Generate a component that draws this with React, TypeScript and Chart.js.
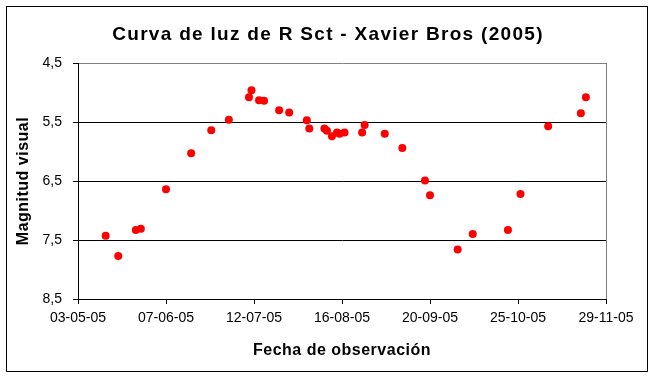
import { useEffect, useRef } from 'react';
import { Chart, registerables } from 'chart.js';

Chart.register(...registerables);

const chartTitle = 'Curva de luz de R Sct - Xavier Bros (2005)';
const xAxisTitle = 'Fecha de observación';
const yAxisTitle = 'Magnitud visual';

const startDate = '2005-05-03';
const endDate = '2005-11-29';
const xTickStepDays = 35;
const yMin = 4.5;
const yMax = 8.5;
const yStep = 1;

const obsDates = [
  '2005-05-14', '2005-05-19', '2005-05-26', '2005-05-28', '2005-06-07',
  '2005-06-17', '2005-06-25', '2005-07-02', '2005-07-10', '2005-07-11',
  '2005-07-14', '2005-07-16', '2005-07-22', '2005-07-26', '2005-08-02',
  '2005-08-03', '2005-08-09', '2005-08-10', '2005-08-12', '2005-08-14',
  '2005-08-15', '2005-08-17', '2005-08-24', '2005-08-25', '2005-09-02',
  '2005-09-09', '2005-09-18', '2005-09-20', '2005-10-01', '2005-10-07',
  '2005-10-21', '2005-10-26', '2005-11-06', '2005-11-19', '2005-11-21',
];

const magnitudes = [
  7.43, 7.77, 7.33, 7.31, 6.64,
  6.03, 5.64, 5.46, 5.08, 4.96,
  5.13, 5.14, 5.30, 5.34, 5.47,
  5.61, 5.61, 5.65, 5.74, 5.68,
  5.70, 5.68, 5.68, 5.55, 5.70,
  5.94, 6.49, 6.74, 7.66, 7.40,
  7.33, 6.72, 5.57, 5.35, 5.08,
];

const FONT = '"Liberation Sans", Arial, sans-serif';
const DAY = 86400000;

function toUTC(s: string) {
  const [y, m, d] = s.split('-').map(Number);
  return Date.UTC(y, m - 1, d);
}
const START = toUTC(startDate);
const dayOffset = (s: string) => Math.round((toUTC(s) - START) / DAY);
const fmtDay = (n: number) => {
  const d = new Date(START + n * DAY);
  const dd = String(d.getUTCDate()).padStart(2, '0');
  const mm = String(d.getUTCMonth() + 1).padStart(2, '0');
  const yy = String(d.getUTCFullYear() % 100).padStart(2, '0');
  return `${dd}-${mm}-${yy}`;
};

export default function App() {
  const ref = useRef<HTMLCanvasElement>(null);

  useEffect(() => {
    if (!ref.current) return;
    const points = obsDates.map((d, i) => ({ x: dayOffset(d), y: magnitudes[i] }));

    const decor = {
      id: 'decor',
      beforeDatasetsDraw(chart: any) {
        const { ctx, chartArea } = chart;
        ctx.save();
        ctx.strokeStyle = '#808080';
        ctx.lineWidth = 1;
        ctx.beginPath();
        ctx.moveTo(chartArea.right + 0.5, chartArea.top);
        ctx.lineTo(chartArea.right + 0.5, chartArea.bottom);
        ctx.stroke();
        ctx.restore();
      },
      afterDraw(chart: any) {
        const { ctx, chartArea } = chart;
        ctx.save();
        ctx.strokeStyle = '#000';
        ctx.lineWidth = 1;
        ctx.strokeRect(6.5, 6.5, 641, 365);
        ctx.fillStyle = '#000';
        ctx.textAlign = 'center';
        ctx.textBaseline = 'alphabetic';
        // title
        ctx.font = `bold 19px ${FONT}`;
        ctx.letterSpacing = '1.3px';
        ctx.fillText(chartTitle, 328, 40);
        // x title
        ctx.font = `bold 16px ${FONT}`;
        ctx.letterSpacing = '0.5px';
        ctx.fillText(xAxisTitle, (chartArea.left + chartArea.right) / 2, 355);
        // y title
        ctx.translate(28, (chartArea.top + chartArea.bottom) / 2);
        ctx.rotate(-Math.PI / 2);
        ctx.fillText(yAxisTitle, 0, 0);
        ctx.restore();
      },
    };

    const chart = new Chart(ref.current, {
      type: 'scatter',
      data: {
        datasets: [
          {
            data: points,
            backgroundColor: '#ff0000',
            borderWidth: 0,
            pointRadius: 4,
            pointHoverRadius: 4,
            showLine: false,
          },
        ],
      },
      options: {
        animation: false,
        responsive: false,
        devicePixelRatio: 1,
        layout: { padding: { top: 63, right: 49, left: 0, bottom: 0 } },
        plugins: {
          legend: { display: false },
          title: { display: false },
          tooltip: { enabled: false },
        },
        scales: {
          x: {
            type: 'linear',
            min: 0,
            max: dayOffset(endDate),
            afterFit: (s: any) => { s.height = 80; },
            afterBuildTicks: (s: any) => {
              const t = [];
              for (let v = 0; v <= dayOffset(endDate); v += xTickStepDays) t.push({ value: v });
              s.ticks = t;
            },
            ticks: {
              callback: (v: any) => fmtDay(Number(v)),
              color: '#000',
              font: { family: FONT, size: 14 },
              padding: 6,
              maxRotation: 0,
              autoSkip: false,
            },
            grid: { drawOnChartArea: false, drawTicks: true, tickLength: 5, tickColor: '#000' },
            border: { color: '#000', width: 1 },
          },
          y: {
            reverse: true,
            min: yMin,
            max: yMax,
            afterFit: (s: any) => { s.width = 78; },
            ticks: {
              stepSize: yStep,
              callback: (v: any) => Number(v).toFixed(1).replace('.', ','),
              color: '#000',
              font: { family: FONT, size: 14 },
              padding: 11,
            },
            grid: {
              color: (c: any) => (c.tick && c.tick.value === yMin ? '#808080' : '#000'),
              lineWidth: 1,
              drawTicks: true,
              tickLength: 5,
              tickColor: '#000',
            },
            border: { color: '#000', width: 1 },
          },
        },
      },
      plugins: [decor],
    });
    return () => chart.destroy();
  }, []);

  return (
    <div style={{ position: 'absolute', left: 0, top: 0, width: 655, height: 379, background: '#fff' }}>
      <canvas ref={ref} width={655} height={379} style={{ display: 'block', width: 655, height: 379 }} />
    </div>
  );
}
